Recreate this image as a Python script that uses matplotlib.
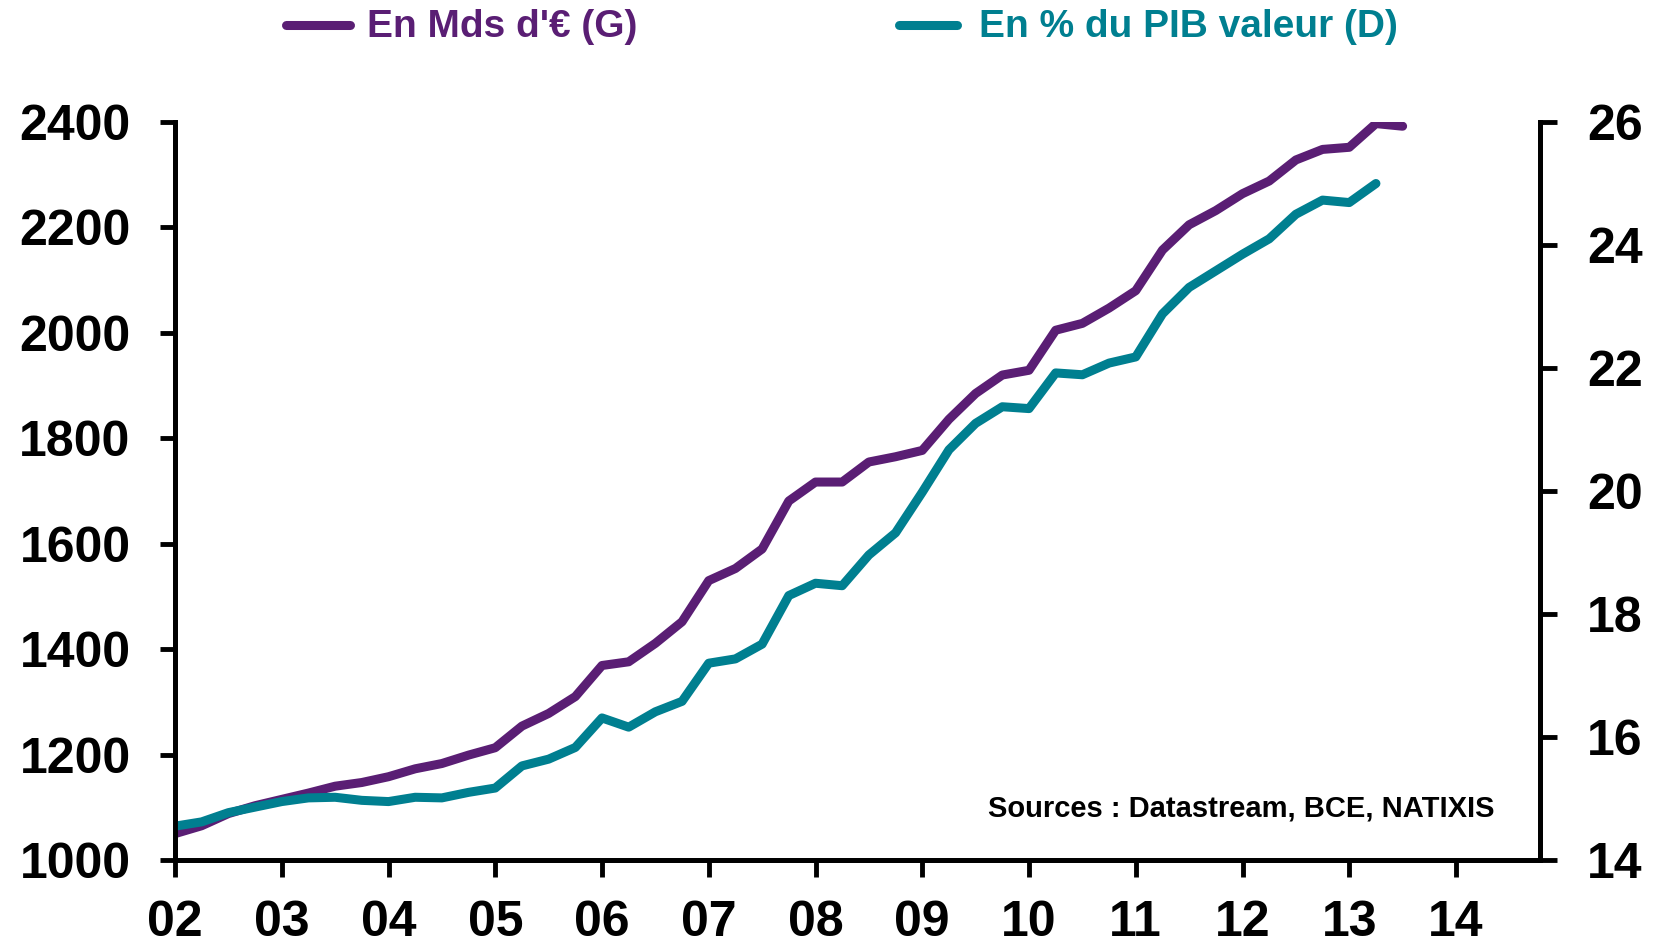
import matplotlib
matplotlib.use("Agg")
import matplotlib.pyplot as plt
from matplotlib.lines import Line2D
import numpy as np

plt.rcParams['font.family'] = ['Liberation Sans', 'DejaVu Sans']
plt.rcParams['font.weight'] = 'bold'

# Quarterly data starting 2002Q1
start_year = 2002
mds_eur = [1050, 1065, 1088, 1103, 1115, 1127, 1140, 1147, 1158, 1173, 1183, 1199,
           1213, 1254, 1278, 1310, 1369, 1376, 1411, 1452, 1530, 1553, 1590, 1681,
           1717, 1717, 1755, 1765, 1777, 1836, 1885, 1920, 1929, 2005, 2018, 2047,
           2080, 2157, 2205, 2232, 2264, 2288, 2328, 2348, 2352, 2397, 2392]
pct_pib = [14.55, 14.62, 14.77, 14.86, 14.95, 15.01, 15.02, 14.97, 14.95, 15.02, 15.01, 15.10,
           15.17, 15.53, 15.64, 15.83, 16.31, 16.16, 16.41, 16.58, 17.20, 17.27, 17.51, 18.30,
           18.50, 18.46, 18.96, 19.32, 19.98, 20.67, 21.10, 21.37, 21.34, 21.92, 21.89, 22.08,
           22.18, 22.88, 23.31, 23.58, 23.85, 24.10, 24.50, 24.73, 24.69, 25.00]
year_ticks = list(range(2002, 2015))
year_labels = ["02", "03", "04", "05", "06", "07", "08", "09", "10", "11", "12", "13", "14"]
left_ticks = [1000, 1200, 1400, 1600, 1800, 2000, 2200, 2400]
right_ticks = [14, 16, 18, 20, 22, 24, 26]
label_g = "En Mds d'€ (G)"
label_d = "En % du PIB valeur (D)"
source_text = "Sources : Datastream, BCE, NATIXIS"

purple = "#5A1E74"
teal = "#007F90"

W, H = 1662, 947
fig = plt.figure(figsize=(W / 100, H / 100), dpi=100)
x0, x1, ytop, ybot = 175, 1540, 122, 860
ax = fig.add_axes([x0 / W, 1 - ybot / H, (x1 - x0) / W, (ybot - ytop) / H])
ax2 = ax.twinx()

xa = start_year + np.arange(len(mds_eur)) * 0.25
xb = start_year + np.arange(len(pct_pib)) * 0.25

ax.plot(xa, mds_eur, color=purple, lw=6.5, solid_capstyle='round', solid_joinstyle='round')
ax2.plot(xb, pct_pib, color=teal, lw=6.5, solid_capstyle='round', solid_joinstyle='round')

xmax = 2002 + (x1 - x0) / (1456 - 175) * 12
ax.set_xlim(2002, xmax)
ax.set_ylim(1000, 2400)
ax2.set_ylim(14, 26)

ax.set_xticks(year_ticks)
ax.set_xticklabels(year_labels)
ax.set_yticks(left_ticks)
ax2.set_yticks(right_ticks)

for a in (ax, ax2):
    a.spines['top'].set_visible(False)
    for s in ('left', 'right', 'bottom'):
        a.spines[s].set_linewidth(3.5)
    a.patch.set_visible(False)

ax.tick_params(axis='y', direction='out', length=11, width=3.5, labelsize=36, pad=21)
ax.tick_params(axis='x', direction='out', length=12, width=3.5, labelsize=36, pad=17)
ax2.tick_params(axis='y', direction='out', length=12, width=3.5, labelsize=36, pad=22)
for lab in ax.get_xticklabels() + ax.get_yticklabels() + ax2.get_yticklabels():
    lab.set_fontweight('bold')

ax.text(1495 / W, 1 - 816 / H, source_text, transform=fig.transFigure, ha='right',
        va='baseline', fontsize=21, fontweight='bold', color='black')

# legend
ly = 1 - 25 / H
fig.add_artist(Line2D([286 / W, 350 / W], [ly, ly], transform=fig.transFigure, color=purple,
                      lw=6.5, solid_capstyle='round'))
fig.text(367 / W, 1 - 27 / H, label_g, color=purple, fontsize=28, fontweight='bold', va='center')
fig.add_artist(Line2D([899 / W, 957 / W], [ly, ly], transform=fig.transFigure, color=teal,
                      lw=6.5, solid_capstyle='round'))
fig.text(979 / W, 1 - 27 / H, label_d, color=teal, fontsize=28, fontweight='bold', va='center')

fig.savefig("out.png", dpi=100)
